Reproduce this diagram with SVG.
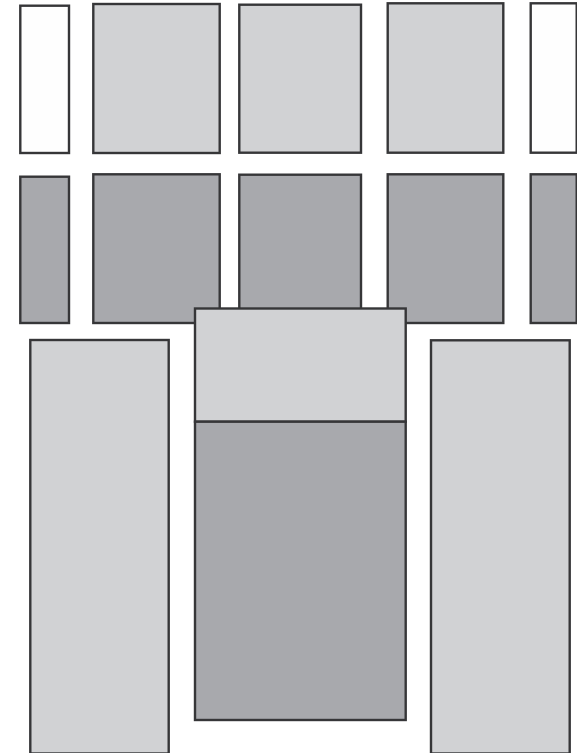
<svg xmlns="http://www.w3.org/2000/svg" width="577" height="753" viewBox="0 0 577 753">
<style>
rect{stroke:#363638;stroke-width:2.4}
.w{fill:#fefefe}
.l{fill:#d1d2d4}
.d{fill:#a8a9ad}
</style>
<rect width="577" height="753" fill="#ffffff" style="stroke:none"/>
<g id="row1">
<rect id="a1" class="w" x="20.3" y="5.7" width="48.7" height="147.3"/>
<rect id="a2" class="l" x="93.3" y="4" width="126.4" height="149"/>
<rect id="a3" class="l" x="239.3" y="4.7" width="121.7" height="148"/>
<rect id="a4" class="l" x="387.7" y="3.3" width="115.6" height="149.4"/>
<rect id="a5" class="w" x="530.7" y="3.3" width="46" height="149.4"/>
</g>
<g id="row2">
<rect id="b1" class="d" x="20.3" y="176.7" width="48.7" height="146.3"/>
<rect id="b2" class="d" x="93.3" y="174.3" width="126.4" height="148.7"/>
<rect id="b3" class="d" x="239.3" y="174.7" width="121.7" height="148.3"/>
<rect id="b4" class="d" x="387.7" y="174.3" width="115.6" height="148.7"/>
<rect id="b5" class="d" x="530.7" y="174.3" width="46" height="148.7"/>
</g>
<g id="left-tall"><rect class="l" x="30.3" y="340" width="138.4" height="413.5"/></g>
<g id="right-tall"><rect class="l" x="431" y="340.3" width="138.7" height="413.2"/></g>
<g id="center">
<rect class="l" x="195" y="308.5" width="210.7" height="113.2"/>
<rect class="d" x="195" y="421.7" width="210.7" height="298.3"/>
</g>
<g id="connectors"></g>
</svg>
